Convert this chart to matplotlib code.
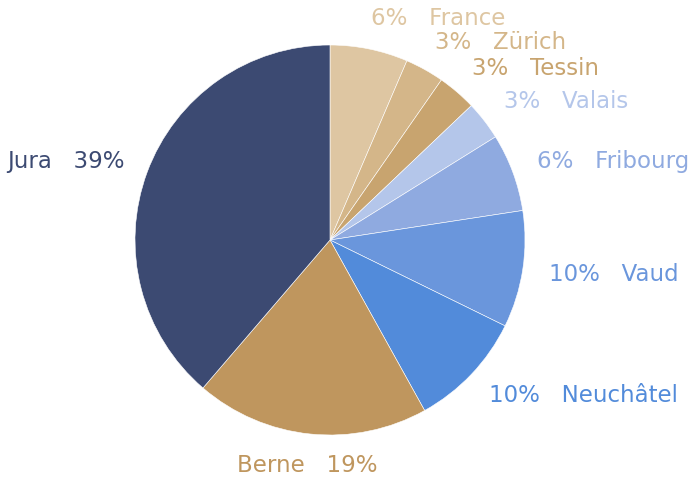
import numpy as np
import matplotlib
matplotlib.use('Agg')
import matplotlib.pyplot as plt

# Slice data, clockwise from the top
names = ['France', 'Zürich', 'Tessin', 'Valais', 'Fribourg',
         'Vaud', 'Neuchâtel', 'Berne', 'Jura']
counts = [2, 1, 1, 1, 2, 3, 3, 6, 12]
colors = ['#DEC6A2', '#D4B689', '#C8A46F', '#B4C6EA', '#8FAAE0',
          '#6A96DC', '#528BDA', '#BF965E', '#3C4A72']

plt.rcParams['font.family'] = ['DejaVu Sans']

fig = plt.figure(figsize=(6.97, 4.80), dpi=100)
ax = fig.add_axes([0, 0, 1, 1])

cx, cy, R = 330, 240, 195
wedges, _ = ax.pie(counts, colors=colors, startangle=90, counterclock=False,
                   center=(cx, cy), radius=R, frame=True,
                   wedgeprops=dict(edgecolor='white', linewidth=0.4))
ax.set_xlim(0, 697)
ax.set_ylim(0, 480)
ax.set_aspect('equal')
ax.axis('off')

total = sum(counts)
gap = '   '
for w, name, n, col in zip(wedges, names, counts, colors):
    mid = np.deg2rad((w.theta1 + w.theta2) / 2)
    x = cx + 1.16 * R * np.cos(mid)
    y = cy + 1.16 * R * np.sin(mid)
    pct = f"{round(100 * n / total)}%"
    if np.cos(mid) > 0.2:
        txt, ha, x = pct + gap + name, 'left', x - 5
    elif np.cos(mid) < -0.2:
        txt, ha, x = name + gap + pct, 'right', x + 7
    else:
        txt, ha = name + gap + pct, 'center'
    ax.text(x, y, txt, ha=ha, va='center', color=col, fontsize=16.5)

fig.savefig('out.png', dpi=100)
